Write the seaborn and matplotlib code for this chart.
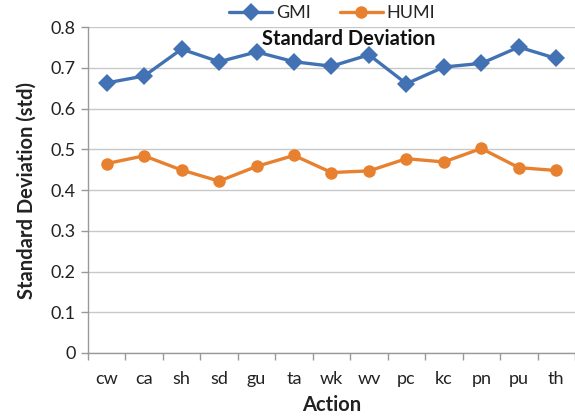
import matplotlib
matplotlib.use("Agg")
import matplotlib.pyplot as plt
import seaborn as sns
import pandas as pd
import numpy as np
from matplotlib.ticker import FixedLocator

actions = ["cw", "ca", "sh", "sd", "gu", "ta", "wk", "wv", "pc", "kc", "pn", "pu", "th"]
gmi = [0.663, 0.680, 0.746, 0.715, 0.739, 0.715, 0.704, 0.732, 0.661, 0.702, 0.711, 0.751, 0.723]
humi = [0.465, 0.484, 0.449, 0.422, 0.458, 0.485, 0.443, 0.447, 0.477, 0.469, 0.502, 0.455, 0.448]
y_ticks = [0, 0.1, 0.2, 0.3, 0.4, 0.5, 0.6, 0.7, 0.8]

df = pd.DataFrame({
    "Action": actions * 2,
    "std": gmi + humi,
    "Method": ["GMI"] * len(actions) + ["HUMI"] * len(actions),
})

sns.set_theme(style="white")
plt.rcParams["font.family"] = ["Lato", "DejaVu Sans"]

fig = plt.figure(figsize=(5.75, 4.17), dpi=100)
ax = fig.add_axes([0.153, 0.1535, 0.847, 0.7815])

sns.lineplot(data=df, x="Action", y="std", hue="Method", style="Method",
             markers={"GMI": "D", "HUMI": "o"}, dashes=False, sort=False,
             palette={"GMI": "#4272B4", "HUMI": "#E8812F"},
             linewidth=2.4, markersize=9, markeredgewidth=0, ax=ax)

ax.set_xlim(-0.5, len(actions) - 0.5)
ax.set_ylim(0, 0.8)
ax.set_yticks(y_ticks)
ax.set_yticklabels([("%.1f" % v) if v else "0" for v in y_ticks])
ax.set_xticks(range(len(actions)))
ax.set_xticklabels(actions)
ax.xaxis.set_minor_locator(FixedLocator(np.arange(-0.5, len(actions), 1.0)))
ax.tick_params(axis="x", which="major", length=0, pad=13, labelsize=13, colors="#222222")
ax.tick_params(axis="x", which="minor", length=5, width=1, color="#999999", direction="out", bottom=True)
ax.tick_params(axis="y", which="major", length=5, width=1, direction="out", left=True,
               labelsize=13, labelcolor="#222222", color="#999999", pad=4)

ax.grid(axis="y", color="#c8c8c8", linewidth=1)
ax.set_axisbelow(True)
for s in ["top", "right"]:
    ax.spines[s].set_visible(False)
for s in ["left", "bottom"]:
    ax.spines[s].set_color("#999999")
    ax.spines[s].set_linewidth(1)

ax.set_xlabel("Action", fontsize=14.5, fontweight="bold", color="#222222", labelpad=6)
ax.set_ylabel("Standard Deviation (std)", fontsize=14.5, fontweight="bold", color="#222222", labelpad=10)

ax.text(0.535, 0.962, "Standard Deviation", transform=ax.transAxes, ha="center", va="center",
        fontsize=14.5, fontweight="bold", color="#111111")

handles, labels = ax.get_legend_handles_labels()
ax.legend(handles, labels, loc="center", bbox_to_anchor=(332 / 575, 1 - 13 / 417),
          bbox_transform=fig.transFigure, ncol=2, frameon=False, fontsize=13,
          handlelength=2.4, columnspacing=1.6, handletextpad=0.2, borderpad=0)

fig.savefig("out.png", dpi=100)
